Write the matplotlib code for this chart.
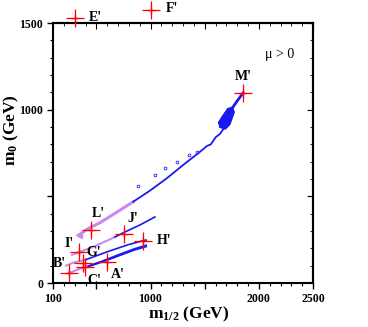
import matplotlib
matplotlib.use("Agg")
import matplotlib.pyplot as plt
from matplotlib.ticker import MultipleLocator, FixedLocator, FixedFormatter

plt.rcParams['font.family'] = ['Liberation Serif', 'DejaVu Serif']
plt.rcParams['mathtext.fontset'] = 'custom'
plt.rcParams['mathtext.rm'] = 'Liberation Serif'
plt.rcParams['mathtext.bf'] = 'Liberation Serif:bold'
plt.rcParams['mathtext.it'] = 'Liberation Serif:italic'

# benchmark points (m_1/2, m_0)
point_names = ["A'", "B'", "C'", "E'", "F'", "G'", "H'", "I'", "J'", "L'", "M'"]
point_m12 = [598, 248, 395, 303, 1005, 377, 931, 340, 755, 451, 1854]
point_m0 = [119, 56, 94, 1529, 1575, 117, 244, 177, 283, 306, 1096]
label_dx = [8, -7, 7, 15, 15, 8, 15, -7, 6, 5, 0]
label_dy = [-9, 7, -10, 0, 1, 7, 0, 6, 11, 12, 12]

# WMAP-strip curves (violet = lower part, blue = upper part)
L_violet_x = [340, 420, 534, 680, 841]
L_violet_y = [277, 312, 348, 405, 469]
L_blue_x = [841, 1000, 1150, 1300, 1457, 1520, 1557, 1600, 1641, 1680, 1706]
L_blue_y = [469, 535, 604, 680, 757, 790, 800, 840, 860, 895, 917]
L_top_x = [1761, 1800, 1854]
L_top_y = [1015, 1050, 1096]
blob_x = [1630, 1665, 1715, 1755, 1770, 1730, 1690, 1640, 1700, 1745, 1660]
blob_y = [925, 960, 1005, 1012, 985, 915, 890, 900, 975, 950, 910]
dots_x = [885, 1041, 1134, 1245, 1355, 1429]
dots_y = [560, 623, 664, 698, 738, 756]

J_violet_x = [275, 488, 672]
J_violet_y = [162, 213, 265]
J_blue_x = [672, 746, 903, 1041]
J_blue_y = [265, 289, 335, 381]

H_violet_x = [220, 290, 405]
H_violet_y = [100, 118, 135]
H_blue_x = [405, 600, 800, 931, 960]
H_blue_y = [135, 180, 222, 244, 248]

A_band_x = [410, 550, 700, 850, 960]
A_band_y1 = [92, 120, 155, 190, 210]
A_band_y2 = [95, 125, 162, 197, 218]

B_violet_x = [250, 330, 410]
B_violet_y = [58, 78, 93]

left_violet_y = [650, 1500]

fig = plt.figure(figsize=(3.68, 3.27), dpi=100)
ax = fig.add_axes([53/368, 44/327, 260/368, 260/327])
ax.set_xlim(100, 2500)
ax.set_ylim(0, 1500)

violet = '#cc88ee'
blue = '#1a1aee'

ax.plot([102, 102], left_violet_y, color=violet, lw=1.2)
ax.plot(L_violet_x, L_violet_y, color=violet, lw=2.2)
ax.plot(L_violet_x[0], L_violet_y[0], marker='<', color=violet, ms=5)
ax.plot(L_blue_x, L_blue_y, color=blue, lw=1.3)
ax.plot(L_top_x, L_top_y, color=blue, lw=2.0)
ax.fill(blob_x[:8], blob_y[:8], color=blue)
ax.plot(blob_x, blob_y, color=blue, lw=1.2)
ax.plot(dots_x, dots_y, 'o', mfc='none', mec=blue, ms=2, mew=0.6, ls='none')
ax.plot(J_violet_x, J_violet_y, color=violet, lw=1.5)
ax.plot(J_blue_x, J_blue_y, color=blue, lw=1.2)
ax.plot(H_violet_x, H_violet_y, color=violet, lw=1.5)
ax.plot(H_blue_x, H_blue_y, color=blue, lw=1.2)
ax.plot(A_band_x, A_band_y1, color=blue, lw=1.2)
ax.plot(A_band_x, A_band_y2, color=blue, lw=1.2)
ax.plot(B_violet_x, B_violet_y, color=violet, lw=1.5)

star = [(0, 1), (0.12, 0.12), (1, 0), (0.12, -0.12), (0, -1), (-0.12, -0.12), (-1, 0), (-0.12, 0.12), (0, 1)]
for x, y, n, dx, dy in zip(point_m12, point_m0, point_names, label_dx, label_dy):
    ax.plot(x, y, marker=star, color='#ff3030', ms=13, alpha=0.5, clip_on=False, zorder=5, mew=0)
    ax.plot(x, y, marker='+', color='red', ms=13, mew=0.9, clip_on=False, zorder=6)
    ax.annotate(n, (x, y), xytext=(dx, dy), textcoords='offset points',
                ha='center', va='center', fontsize=10, fontweight='bold', annotation_clip=False, zorder=7)

ax.text(0.87, 0.88, 'μ > 0', transform=ax.transAxes, fontsize=10, ha='center', va='center')

for s in ax.spines.values():
    s.set_linewidth(1.5)

ax.xaxis.set_major_locator(FixedLocator([100, 500, 1000, 1500, 2000, 2500]))
ax.xaxis.set_major_formatter(FixedFormatter(['100', '', '1000', '', '2000', '2500']))
ax.xaxis.set_minor_locator(MultipleLocator(100))
ax.yaxis.set_major_locator(FixedLocator([0, 500, 1000, 1500]))
ax.yaxis.set_major_formatter(FixedFormatter(['0', '', '1000', '1500']))
ax.yaxis.set_minor_locator(MultipleLocator(100))
ax.tick_params(which='major', direction='out', length=4, width=1, labelsize=8.5, pad=3)
ax.tick_params(which='minor', direction='out', length=2, width=0.8)
for lab in ax.get_xticklabels() + ax.get_yticklabels():
    lab.set_fontweight('bold')

sx = ax.secondary_xaxis('top')
sx.xaxis.set_major_locator(FixedLocator([100, 500, 1000, 1500, 2000, 2500]))
sx.xaxis.set_minor_locator(MultipleLocator(100))
sx.tick_params(which='major', direction='in', length=4, labeltop=False)
sx.tick_params(which='minor', direction='in', length=2)
sy = ax.secondary_yaxis('right')
sy.yaxis.set_major_locator(FixedLocator([0, 500, 1000, 1500]))
sy.yaxis.set_minor_locator(MultipleLocator(100))
sy.tick_params(which='major', direction='in', length=4, labelright=False)
sy.tick_params(which='minor', direction='in', length=2)
for s in list(sx.spines.values()) + list(sy.spines.values()):
    s.set_linewidth(1.5)

fig.text(189/368, 1 - 314/327, r'$\mathbf{m_{1/2}}$ (GeV)', ha='center', va='center', fontsize=12.5, fontweight='bold')
fig.text(11/368, 1 - 130/327, r'$\mathbf{m_0}$ (GeV)', ha='center', va='center', fontsize=12.5, fontweight='bold', rotation=90)

fig.savefig('out.png', dpi=100)
